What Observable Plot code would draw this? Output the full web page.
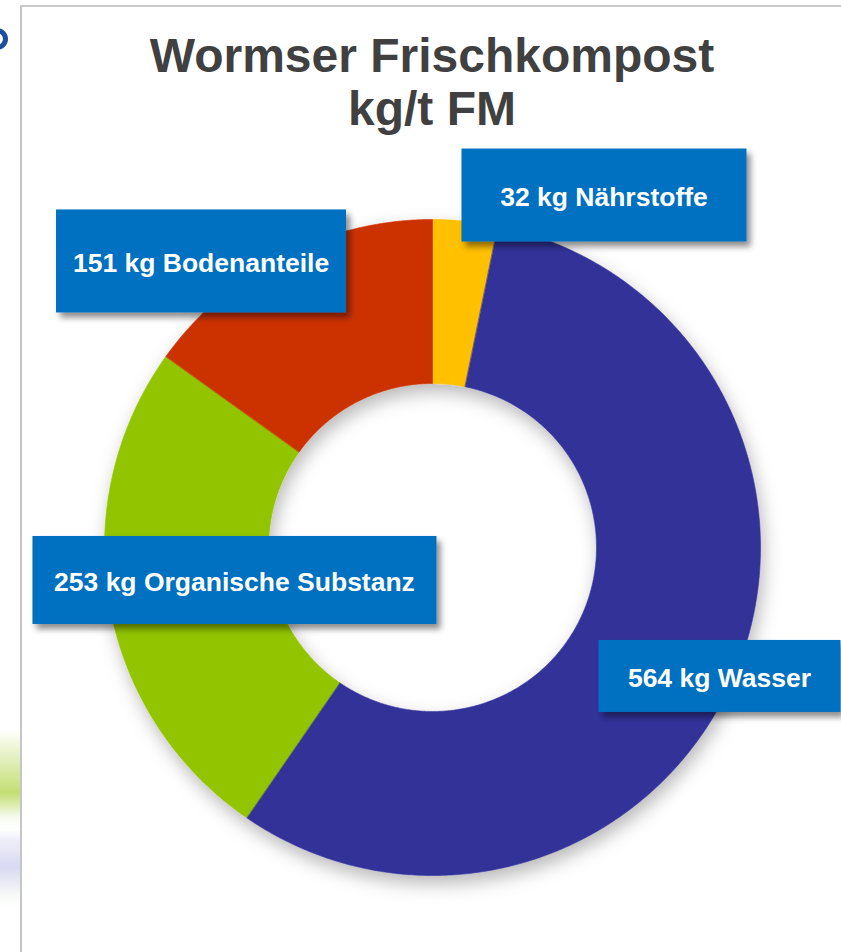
<!DOCTYPE html>
<html>
<head>
<meta charset="utf-8">
<script src="https://cdn.jsdelivr.net/npm/d3@7"></script>
<script src="https://cdn.jsdelivr.net/npm/@observablehq/plot@0.6"></script>
<style>
  html, body { margin: 0; padding: 0; background: #fff; }
  body { width: 841px; height: 952px; overflow: hidden; position: relative;
         font-family: "Liberation Sans", Arial, sans-serif; }
  #frame { position: absolute; left: 20px; top: 5px; width: 840px; height: 960px;
           border-left: 2px solid #c6c6c6; border-top: 2px solid #cbcbcb; box-sizing: border-box; }
  #logo { position: absolute; left: -14px; top: 28px; width: 22px; height: 22px; box-sizing: border-box;
          border: 5px solid #1c4f9f; border-radius: 50%; }
  #blur { position: absolute; left: 0; top: 730px; width: 20px; height: 190px;
          background: linear-gradient(to bottom,
            rgba(255,255,255,0) 0px,
            rgba(146,196,0,0.12) 13px,
            rgba(146,196,0,0.55) 63px,
            rgba(200,230,150,0.15) 87px,
            rgba(255,255,255,0) 100px,
            rgba(170,170,225,0.2) 110px,
            rgba(170,170,225,0.45) 137px,
            rgba(200,220,200,0.15) 165px,
            rgba(255,255,255,0) 178px); }
  #title { position: relative; width: 864px; height: 130px; box-sizing: border-box; padding-top: 29px;
           text-align: center; font-weight: bold; font-size: 48px; line-height: 53px; color: #404040; }
  #chart { position: relative; }
</style>
</head>
<body>
<div id="frame"></div>
<div id="logo"></div>
<div id="blur"></div>
<div id="title">Wormser Frischkompost<br>kg/t FM</div>
<div id="chart"></div>
<script>
// ---- data ----
const categories = ["Nährstoffe", "Wasser", "Organische Substanz", "Bodenanteile"];
const values = [32, 564, 253, 151];
const unit = "kg";
const colors = ["#FFC000", "#333399", "#92C400", "#CC3300"];

// ---- layout (pixels) ----
const W = 841, H = 822, CX = 432, CY = 417, R = 328, INNER = 0.5;
const labelLayout = {
  "Nährstoffe":          { dx: 146.8, dy: -105.2, w: 285, h: 93 },
  "Wasser":              { dx: 60.6,  dy: 34.7,   w: 242, h: 72 },
  "Organische Substanz": { dx: 44.3,  dy: -7.3,   w: 404, h: 88 },
  "Bodenanteile":        { dx: -119.1, dy: -65.2, w: 290, h: 103 }
};

const total = d3.sum(values);
let acc = 0;
const slices = categories.map((name, i) => {
  const a0 = acc / total * 360;
  acc += values[i];
  const a1 = acc / total * 360;
  return { name, value: values[i], a0, a1 };
});
const rad = a => a * Math.PI / 180;
const px = (a, r) => r * Math.sin(rad(a));
const py = (a, r) => r * Math.cos(rad(a));

const ring = slices.flatMap(s => {
  const n = Math.max(4, Math.ceil((s.a1 - s.a0) / 0.5));
  const pts = [];
  for (let k = 0; k <= n; k++) {
    const a = s.a0 + (s.a1 - s.a0) * k / n;
    pts.push({ name: s.name, x: px(a, 1), y: py(a, 1) });
  }
  for (let k = n; k >= 0; k--) {
    const a = s.a0 + (s.a1 - s.a0) * k / n;
    pts.push({ name: s.name, x: px(a, INNER), y: py(a, INNER) });
  }
  return pts;
});

const mid = s => (s.a0 + s.a1) / 2;
const rc = (1 + INNER) / 2;

const labelMarks = slices.map(s => Plot.text([s], {
  x: d => px(mid(d), rc),
  y: d => py(mid(d), rc),
  text: d => `${d.value} ${unit} ${d.name}`,
  dx: labelLayout[s.name].dx,
  dy: labelLayout[s.name].dy,
  fill: "white",
  fontSize: 26.5,
  fontWeight: "bold",
  textAnchor: "middle",
  lineAnchor: "middle"
}));

const plot = Plot.plot({
  width: W,
  height: H,
  margin: 0,
  style: { fontFamily: '"Liberation Sans", Arial, sans-serif', background: "transparent", overflow: "visible" },
  x: { domain: [-CX / R, (W - CX) / R], axis: null },
  y: { domain: [-(H - CY) / R, CY / R], axis: null },
  color: { domain: categories, range: colors },
  marks: [
    Plot.line(ring, { x: "x", y: "y", z: "name", fill: "name", stroke: "name", strokeWidth: 0.6, curve: "linear-closed" }),
    ...labelMarks
  ]
});

document.getElementById("chart").append(plot);

// ---- decorations: shadows and label boxes ----
const ns = "http://www.w3.org/2000/svg";
const defs = document.createElementNS(ns, "defs");
defs.innerHTML = `
  <filter id="ringShadow" x="-20%" y="-20%" width="140%" height="140%">
    <feDropShadow dx="3" dy="8" stdDeviation="9" flood-color="#000" flood-opacity="0.28"/>
  </filter>
  <filter id="boxShadow" x="-20%" y="-30%" width="140%" height="170%">
    <feDropShadow dx="4" dy="5" stdDeviation="3" flood-color="#000" flood-opacity="0.45"/>
  </filter>`;
plot.insertBefore(defs, plot.firstChild);
plot.querySelectorAll('g[aria-label="line"]').forEach(g => g.setAttribute("filter", "url(#ringShadow)"));
plot.querySelectorAll('g[aria-label="text"] text').forEach(t => {
  const s = slices.find(s => t.textContent.endsWith(s.name));
  if (!s) return;
  const L = labelLayout[s.name];
  const b = t.getBBox();
  const r = document.createElementNS(ns, "rect");
  r.setAttribute("x", b.x + b.width / 2 - L.w / 2);
  r.setAttribute("y", b.y + b.height / 2 - L.h / 2 - 2);
  r.setAttribute("width", L.w);
  r.setAttribute("height", L.h);
  r.setAttribute("fill", "#0070C0");
  r.setAttribute("filter", "url(#boxShadow)");
  const tr = t.getAttribute("transform");
  if (tr) r.setAttribute("transform", tr);
  t.parentNode.insertBefore(r, t);
});
</script>
</body>
</html>
